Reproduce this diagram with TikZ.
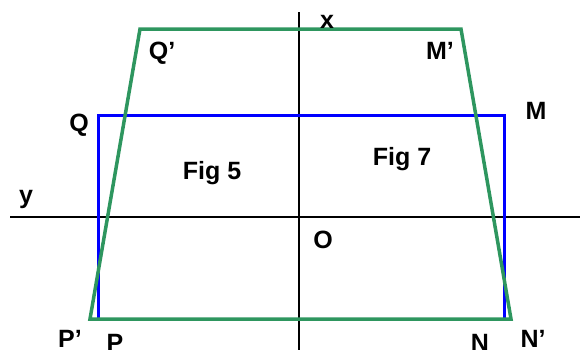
\documentclass[tikz,border=0pt]{standalone}
\usepackage{fontspec}
\setmainfont{Liberation Sans}
\definecolor{trapgreen}{RGB}{46,150,95}
\begin{document}
\begin{tikzpicture}[x=1pt,y=-1pt,
  axis/.style={black,line width=2.8pt},
  rectline/.style={blue,line width=3pt},
  trapline/.style={trapgreen,line width=3.5pt},
  lbl/.style={inner sep=0pt,anchor=base,font=\fontsize{25}{29}\selectfont\bfseries}]
\useasboundingbox (0,0) rectangle (580,349);
% axes
\coordinate (xtop) at (299,12);
\coordinate (xbot) at (299,352);
\coordinate (yl) at (10,217);
\coordinate (yr) at (582,217);
\draw[axis] (xtop) -- (xbot);
\draw[axis] (yl) -- (yr);
% blue rectangle
\coordinate (Qb) at (98,115);
\coordinate (Mb) at (504,115);
\coordinate (Nb) at (504,319);
\coordinate (Pb) at (98,319);
\draw[rectline] (Pb) -- (Qb) -- (Mb) -- (Nb);
% green trapezoid
\coordinate (Qg) at (140,29);
\coordinate (Mg) at (461,29);
\coordinate (Ng) at (511,319);
\coordinate (Pg) at (90,319);
\draw[trapline,line join=miter] (Pg) -- (Qg) -- (Mg) -- (Ng) -- cycle;
% labels
\node[lbl] (lx) at (327,28) {x};
\node[lbl] (lQp) at (162,59) {Q’};
\node[lbl] (lMp) at (440,59) {M’};
\node[lbl] (lQ) at (79,131) {Q};
\node[lbl] (lM) at (536,119) {M};
\node[lbl] (lF5) at (212,179) {Fig 5};
\node[lbl] (lF7) at (402,165) {Fig 7};
\node[lbl] (ly) at (26,203) {y};
\node[lbl] (lO) at (323,248) {O};
\node[lbl] (lPp) at (70,347) {P’};
\node[lbl] (lP) at (115,351) {P};
\node[lbl] (lN) at (480,351) {N};
\node[lbl] (lNp) at (533,347) {N’};
\end{tikzpicture}
\end{document}
